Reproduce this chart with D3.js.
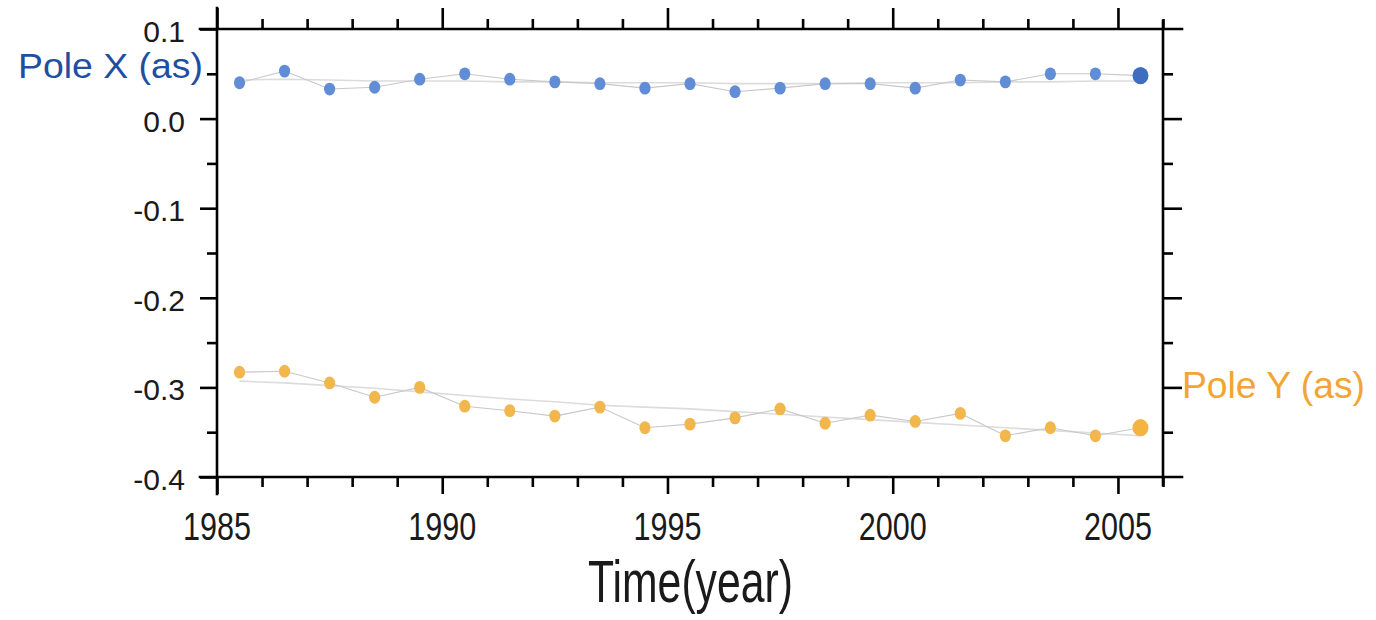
<!DOCTYPE html>
<html>
<head>
<meta charset="utf-8">
<script src="https://cdn.jsdelivr.net/npm/d3@7/dist/d3.min.js"></script>
<style>
  html, body { margin: 0; padding: 0; background: #ffffff; }
  svg { display: block; }
  text { font-family: "Liberation Sans", Arial, sans-serif; }
</style>
</head>
<body>
<svg id="chart" width="1376" height="620"></svg>
<script>
// ---- data ----
const years = [1985.5, 1986.5, 1987.5, 1988.5, 1989.5, 1990.5, 1991.5, 1992.5, 1993.5, 1994.5,
               1995.5, 1996.5, 1997.5, 1998.5, 1999.5, 2000.5, 2001.5, 2002.5, 2003.5, 2004.5, 2005.5];
const poleX = [0.040, 0.053, 0.033, 0.035, 0.044, 0.050, 0.044, 0.041, 0.039, 0.034,
               0.039, 0.030, 0.034, 0.039, 0.039, 0.034, 0.043, 0.041, 0.050, 0.050, 0.048];
const poleY = [-0.283, -0.282, -0.295, -0.311, -0.300, -0.321, -0.326, -0.332, -0.322, -0.345,
               -0.341, -0.334, -0.324, -0.340, -0.331, -0.338, -0.329, -0.354, -0.345, -0.354, -0.345];
const trendX = [0.043, 0.044, 0.043, 0.042, 0.042, 0.042, 0.041, 0.041, 0.040, 0.040,
                0.040, 0.039, 0.039, 0.039, 0.040, 0.040, 0.040, 0.041, 0.041, 0.042, 0.042];
const trendY = [-0.293, -0.295, -0.298, -0.301, -0.305, -0.309, -0.313, -0.316, -0.320, -0.322,
                -0.324, -0.327, -0.330, -0.333, -0.336, -0.339, -0.342, -0.345, -0.348, -0.351, -0.354];
const xMajorTicks = [1985, 1990, 1995, 2000, 2005];
const xMinorTicks = [1986, 1987, 1988, 1989, 1991, 1992, 1993, 1994, 1996, 1997, 1998, 1999,
                     2001, 2002, 2003, 2004, 2006];
const yMajorTicks = [0.1, 0.0, -0.1, -0.2, -0.3, -0.4];
const yMajorLabels = ["0.1", "0.0", "-0.1", "-0.2", "-0.3", "-0.4"];
const yMinorTicks = [0.05, -0.05, -0.15, -0.25, -0.35];
const xDomain = [1985, 2006];
const yDomain = [-0.4, 0.1];
const seriesXLabel = "Pole X (as)";
const seriesYLabel = "Pole Y (as)";
const xTitle = "Time(year)";

// ---- layout ----
const svg = d3.select("#chart");
const L = 217, R = 1163, T = 29, B = 477;
const x = d3.scaleLinear().domain(xDomain).range([L, R]);
const y = d3.scaleLinear().domain(yDomain).range([B, T]);

const majLen = 17, minLen = 10, axW = 2.6;

// ---- series lines (behind dots) ----
const line = d3.line().x((d, i) => x(years[i])).y(d => y(d));
svg.append("path").datum(trendX).attr("d", line)
  .attr("fill", "none").attr("stroke", "#dcdcdc").attr("stroke-width", 1.6);
svg.append("path").datum(trendY).attr("d", line)
  .attr("fill", "none").attr("stroke", "#dcdcdc").attr("stroke-width", 1.6);
svg.append("path").datum(poleX).attr("d", line)
  .attr("fill", "none").attr("stroke", "#c8c8c8").attr("stroke-width", 1.1);
svg.append("path").datum(poleY).attr("d", line)
  .attr("fill", "none").attr("stroke", "#c8c8c8").attr("stroke-width", 1.1);

// ---- dots ----
function dots(data, fill, lastFill) {
  const n = data.length;
  svg.append("g").selectAll("ellipse").data(data).join("ellipse")
    .attr("cx", (d, i) => x(years[i]))
    .attr("cy", d => y(d))
    .attr("rx", (d, i) => i === n - 1 ? 8 : 5.6)
    .attr("ry", (d, i) => i === n - 1 ? 8.6 : 6.4)
    .attr("fill", (d, i) => i === n - 1 ? lastFill : fill);
}
dots(poleX, "#618cd6", "#3f6dc2");
dots(poleY, "#f1b64c", "#f3b440");

// ---- axes ----
function styleAxis(g) {
  g.select(".domain").remove();
  g.selectAll(".tick line").attr("stroke", "#000").attr("stroke-width", axW);
}
// left
svg.append("g").attr("transform", `translate(${L},0)`)
  .call(d3.axisLeft(y).tickValues(yMajorTicks).tickSize(majLen).tickFormat(""))
  .call(styleAxis);
svg.append("g").attr("transform", `translate(${L},0)`)
  .call(d3.axisLeft(y).tickValues(yMinorTicks).tickSize(minLen).tickFormat(""))
  .call(styleAxis);
// right
svg.append("g").attr("transform", `translate(${R},0)`)
  .call(d3.axisRight(y).tickValues(yMajorTicks.slice(1, -1)).tickSize(majLen + 2).tickFormat(""))
  .call(styleAxis);
svg.append("g").attr("transform", `translate(${R},0)`)
  .call(d3.axisRight(y).tickValues(yMinorTicks).tickSize(minLen).tickFormat(""))
  .call(styleAxis);
// top
svg.append("g").attr("transform", `translate(0,${T})`)
  .call(d3.axisTop(x).tickValues(xMajorTicks).tickSize(21).tickFormat(""))
  .call(styleAxis);
svg.append("g").attr("transform", `translate(0,${T})`)
  .call(d3.axisTop(x).tickValues(xMinorTicks).tickSize(minLen).tickFormat(""))
  .call(styleAxis);
// bottom
svg.append("g").attr("transform", `translate(0,${B})`)
  .call(d3.axisBottom(x).tickValues(xMajorTicks).tickSize(majLen).tickFormat(""))
  .call(styleAxis);
svg.append("g").attr("transform", `translate(0,${B})`)
  .call(d3.axisBottom(x).tickValues(xMinorTicks).tickSize(minLen).tickFormat(""))
  .call(styleAxis);

// frame lines (extended past corners, as in the original)
const frame = svg.append("g").attr("stroke", "#000").attr("stroke-width", axW).attr("stroke-linecap", "square");
frame.append("line").attr("x1", L - majLen).attr("x2", R + majLen + 2).attr("y1", T).attr("y2", T);
frame.append("line").attr("x1", L - majLen).attr("x2", R + majLen + 2).attr("y1", B).attr("y2", B);
frame.append("line").attr("x1", L).attr("x2", L).attr("y1", T - 21).attr("y2", B + majLen);
frame.append("line").attr("x1", R).attr("x2", R).attr("y1", T - 8).attr("y2", B + 8);

// ---- tick labels ----
svg.append("g").selectAll("text").data(yMajorTicks).join("text")
  .attr("x", L - 32)
  .attr("y", d => y(d) + 13)
  .attr("text-anchor", "end")
  .attr("font-size", 30)
  .attr("fill", "#1a1a1a")
  .text((d, i) => yMajorLabels[i]);

svg.append("g").selectAll("text").data(xMajorTicks).join("text")
  .attr("x", d => x(d) - 34)
  .attr("y", 540)
  .attr("font-size", 38)
  .attr("textLength", 68)
  .attr("lengthAdjust", "spacingAndGlyphs")
  .attr("fill", "#1a1a1a")
  .text(d => String(d));

// ---- titles ----
svg.append("text")
  .attr("x", (L + R) / 2 - 102).attr("y", 602)
  .attr("font-size", 60)
  .attr("textLength", 205)
  .attr("lengthAdjust", "spacingAndGlyphs")
  .attr("fill", "#1a1a1a")
  .text(xTitle);

svg.append("text")
  .attr("x", 18).attr("y", 78)
  .attr("font-size", 35)
  .attr("textLength", 185)
  .attr("lengthAdjust", "spacingAndGlyphs")
  .attr("fill", "#1f4f9f")
  .text(seriesXLabel);

svg.append("text")
  .attr("x", 1182).attr("y", 398)
  .attr("font-size", 36)
  .attr("textLength", 183)
  .attr("lengthAdjust", "spacingAndGlyphs")
  .attr("fill", "#f2a434")
  .text(seriesYLabel);
</script>
</body>
</html>
